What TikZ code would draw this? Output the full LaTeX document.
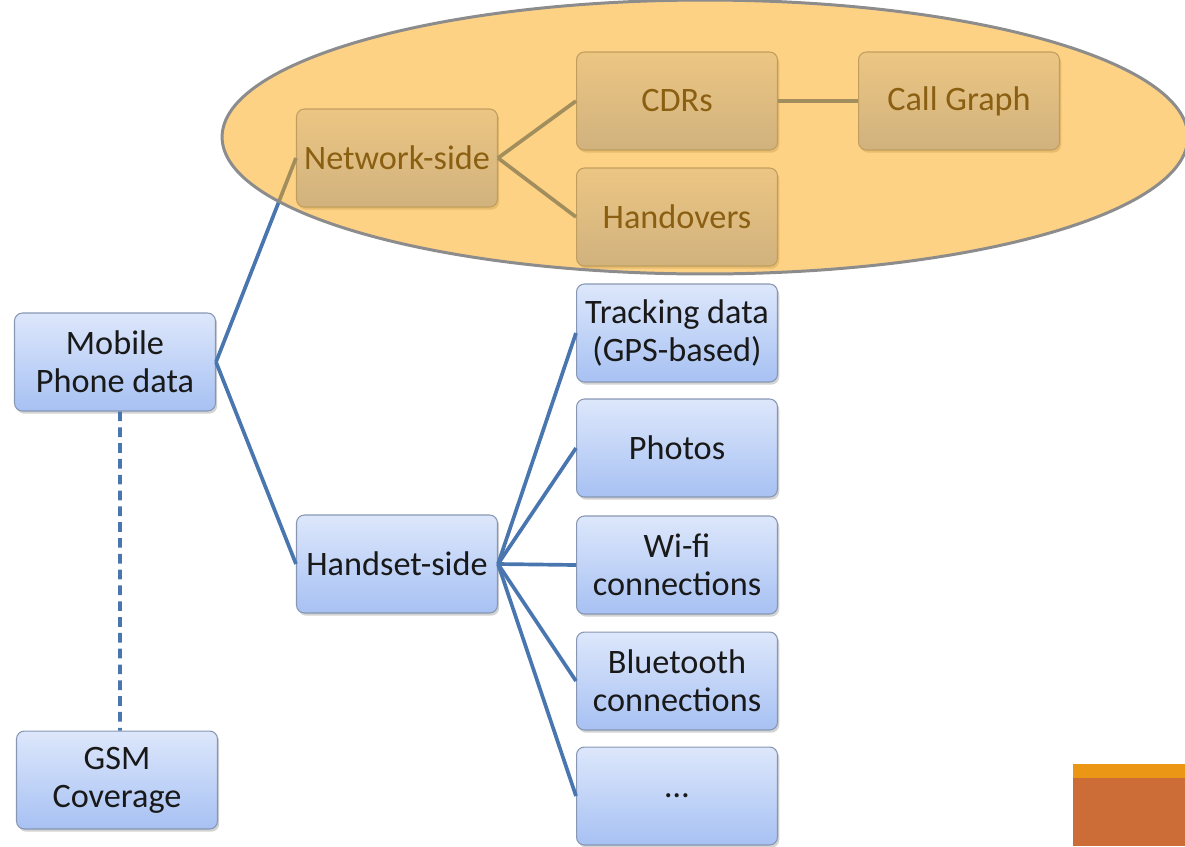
\documentclass[tikz,border=0pt]{standalone}
\usepackage{fontspec}
\setmainfont{Carlito}
\usetikzlibrary{shadows}
\definecolor{lineblue}{HTML}{4A76B0}
\definecolor{boxtop}{HTML}{DDE7FB}
\definecolor{boxbot}{HTML}{A7C1F3}
\definecolor{boxedge}{HTML}{8797B3}
\definecolor{ellfill}{HTML}{FBA50B}
\definecolor{ellline}{HTML}{8C8C8C}
\definecolor{barorange}{HTML}{EB9614}
\definecolor{barbrown}{HTML}{CC6C37}
\tikzset{
  box/.style={draw=boxedge, line width=0.6pt, rounded corners=4.5pt,
    top color=boxtop, bottom color=boxbot, minimum width=4.02cm,
    minimum height=1.96cm, inner sep=0pt, align=center,
    font=\fontsize{19.5}{21.8}\selectfont, text=black!90,
    drop shadow={shadow xshift=1pt, shadow yshift=-1.5pt, opacity=0.35}},
  conn/.style={draw=lineblue, line width=2.1pt},
  dashconn/.style={draw=lineblue, line width=2.1pt, dash pattern=on 5.5pt off 3.5pt}
}
\begin{document}
\begin{tikzpicture}[x=0.02cm,y=-0.02cm]
\useasboundingbox (0,0) rectangle (1185,846);
\node[box] (mob) at (115,362) {Mobile\\Phone data};
\node[box] (gsm) at (117,780) {GSM\\Coverage};
\node[box] (net) at (397,158) {Network-side};
\node[box] (hand) at (397,564) {Handset-side};
\node[box] (cdr) at (677,101) {CDRs};
\node[box] (cg) at (959,101) {Call Graph};
\node[box] (hov) at (677,217) {Handovers};
\node[box] (trk) at (677,333) {Tracking data\\(GPS-based)};
\node[box] (pho) at (677,448) {Photos};
\node[box] (wifi) at (677,565) {Wi-fi\\connections};
\node[box] (bt) at (677,681) {Bluetooth\\connections};
\node[box] (dots) at (677,796) {\ldots};

\draw[conn] (mob.east) -- (net.west);
\draw[conn] (mob.east) -- (hand.west);
\draw[dashconn] ([xshift=0.1cm]mob.south) -- ([xshift=0.06cm]gsm.north);
\draw[conn] (net.east) -- (cdr.west);
\draw[conn] (net.east) -- (hov.west);
\draw[conn] (cdr.east) -- (cg.west);
\draw[conn] (hand.east) -- (trk.west);
\draw[conn] (hand.east) -- (pho.west);
\draw[conn] (hand.east) -- (wifi.west);
\draw[conn] (hand.east) -- (bt.west);
\draw[conn] (hand.east) -- (dots.west);

\draw[draw=ellline, line width=1.7pt, fill=ellfill, fill opacity=0.5]
  (705,137) ellipse [x radius=9.66cm, y radius=2.74cm];

\fill[barbrown] (1073,764) rectangle (1185,846);
\fill[barorange] (1073,764) rectangle (1185,778);
\end{tikzpicture}
\end{document}
